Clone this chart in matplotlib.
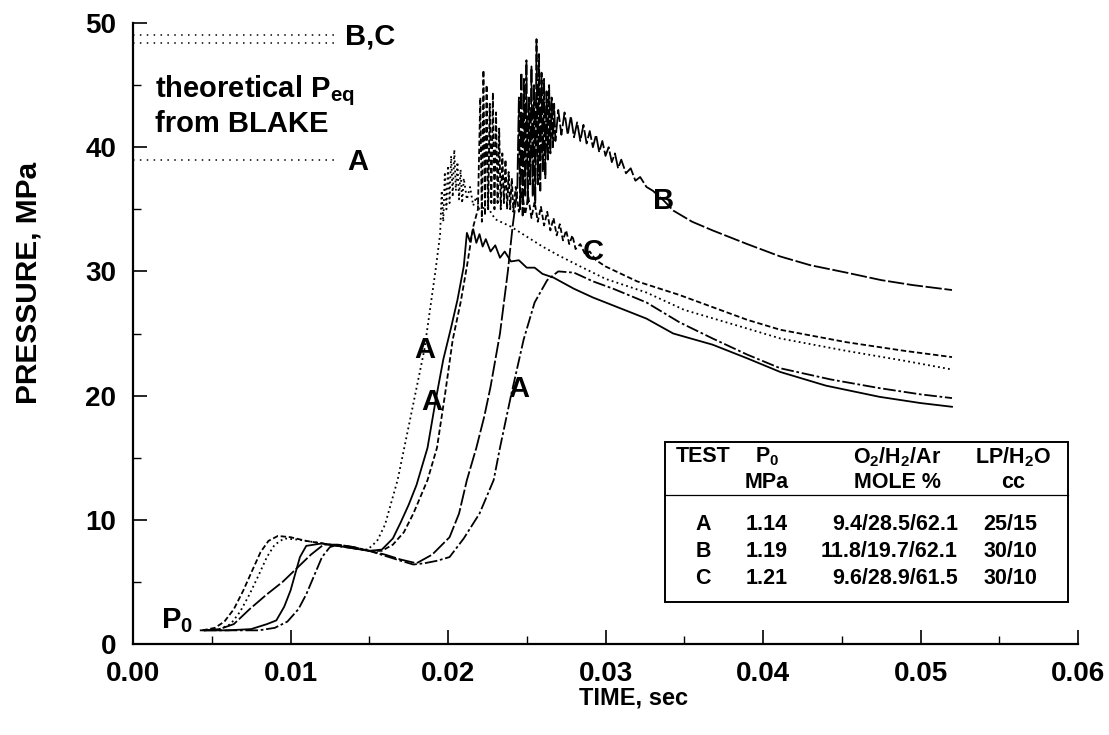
import matplotlib
matplotlib.use("Agg")
import matplotlib.pyplot as plt
from matplotlib.patches import Rectangle
from matplotlib.lines import Line2D

plt.rcParams['font.family'] = ['Liberation Sans', 'DejaVu Sans']
plt.rcParams['font.weight'] = 'bold'
plt.rcParams['axes.labelweight'] = 'bold'
plt.rcParams['mathtext.fontset'] = 'custom'
plt.rcParams['mathtext.rm'] = 'Liberation Sans:bold'
plt.rcParams['mathtext.it'] = 'Liberation Sans:bold'
plt.rcParams['mathtext.bf'] = 'Liberation Sans:bold'

# ---------------------------------------------------------------------------
# data (time in s, pressure in MPa)
# ---------------------------------------------------------------------------
dotted_t = [0.0045, 0.0055, 0.0062, 0.0068, 0.0074, 0.0080, 0.0085, 0.0090, 0.0096, 0.0105,
            0.0120, 0.0135, 0.0149, 0.0155, 0.0160, 0.0168, 0.0175, 0.0185, 0.0192, 0.0195,
            0.0196, 0.0197, 0.0198, 0.0199, 0.0200, 0.0201, 0.0202, 0.0203, 0.0204, 0.0205,
            0.0206, 0.0207, 0.0208, 0.0209, 0.0210, 0.0212, 0.0214, 0.0216, 0.0218, 0.0220,
            0.0225, 0.0230, 0.0240, 0.0250, 0.0260, 0.0270, 0.0284, 0.0300, 0.0326, 0.0350,
            0.0390, 0.0411, 0.0453, 0.0490, 0.0520]
dotted_p = [1.1, 1.2, 1.6, 2.6, 4.0, 5.6, 7.0, 8.0, 8.5, 8.4,
            8.1, 7.8, 7.6, 8.3, 9.6, 13.2, 17.5, 23.7, 30.0, 33.0,
            36.5, 34.0, 38.0, 35.0, 38.5, 35.5, 39.3, 36.0, 39.8, 36.5,
            38.8, 35.8, 38.2, 35.5, 37.5, 35.8, 36.8, 35.3, 36.0, 35.0,
            35.2, 34.2, 33.6, 32.8, 32.0, 31.3, 30.4, 29.4, 28.3, 26.9,
            25.4, 24.6, 23.6, 22.8, 22.1]

solid_t = [0.0043, 0.0060, 0.0075, 0.0085, 0.0091, 0.0096, 0.0100, 0.0106, 0.0110, 0.0120,
           0.0130, 0.0140, 0.0150, 0.0158, 0.0165, 0.0170, 0.0175, 0.0180, 0.0187, 0.0192,
           0.0197, 0.0202, 0.0206, 0.0210, 0.0212, 0.0214, 0.0216, 0.0218, 0.0220, 0.0222,
           0.0224, 0.0227, 0.0230, 0.0233, 0.0236, 0.0240, 0.0245, 0.0250, 0.0255, 0.0260,
           0.0267, 0.0280, 0.0292, 0.0310, 0.0326, 0.0343, 0.0368, 0.0390, 0.0411, 0.0440,
           0.0474, 0.0500, 0.0520]
solid_p = [1.1, 1.1, 1.2, 1.6, 1.9, 3.0, 4.3, 7.0, 7.9, 8.1,
           7.9, 7.7, 7.5, 7.6, 8.5, 9.8, 11.2, 12.8, 15.8, 19.5,
           22.9, 25.5, 27.7, 30.4, 33.1, 32.4, 33.4, 32.3, 33.0, 32.0,
           32.6, 31.6, 32.1, 31.1, 31.6, 30.8, 30.9, 30.3, 30.3, 29.8,
           29.5, 28.6, 27.9, 27.0, 26.2, 25.0, 24.1, 23.0, 21.9, 20.8,
           19.9, 19.4, 19.1]

dashed_t = [0.0044, 0.0052, 0.0058, 0.0064, 0.0070, 0.0076, 0.0081, 0.0086, 0.0092, 0.0100,
            0.0110, 0.0120, 0.0130, 0.0140, 0.0150, 0.0158, 0.0165, 0.0172, 0.0178, 0.0183,
            0.0187, 0.0193, 0.0198, 0.0203, 0.0208, 0.0212, 0.0216, 0.0219,
            0.02205, 0.02215, 0.02225, 0.02235, 0.02245, 0.02255, 0.02265, 0.02275, 0.02285, 0.02295,
            0.02305, 0.02315, 0.02325, 0.02335, 0.02345, 0.02355, 0.02365, 0.02375, 0.02385, 0.02395,
            0.02405, 0.02415, 0.0243, 0.0245, 0.0247, 0.0249, 0.0251, 0.0253, 0.0255, 0.0257,
            0.0259, 0.0261, 0.0263, 0.0265, 0.0267, 0.0269, 0.0271, 0.0273, 0.0275, 0.0277,
            0.0279, 0.0281, 0.0284, 0.0287, 0.0290, 0.0294, 0.0300, 0.0320, 0.0347, 0.0390,
            0.0411, 0.0453, 0.0490, 0.0520]
dashed_p = [1.1, 1.3, 1.8, 2.8, 4.3, 6.0, 7.4, 8.3, 8.7, 8.6,
            8.3, 8.1, 7.9, 7.7, 7.5, 7.5, 8.0, 9.0, 10.5, 12.0,
            13.2, 15.8, 20.0, 24.5, 27.5, 30.4, 33.6, 35.0,
            44.0, 34.0, 46.2, 34.5, 45.0, 35.0, 43.5, 35.5, 44.4, 35.0,
            42.8, 35.5, 41.5, 35.0, 39.5, 35.5, 39.0, 35.0, 38.0, 35.0,
            37.5, 34.8, 36.8, 34.8, 36.5, 34.6, 36.0, 34.3, 35.6, 34.0,
            35.2, 33.7, 34.8, 33.3, 34.3, 32.9, 33.8, 32.5, 33.3, 32.2,
            32.9, 31.8, 32.2, 31.4, 31.6, 30.9, 30.4, 29.2, 28.1, 26.1,
            25.3, 24.3, 23.6, 23.1]

longdash_t = [0.0045, 0.0055, 0.0064, 0.0074, 0.0085, 0.0095, 0.0104, 0.0113, 0.0121, 0.0130,
              0.0140, 0.0150, 0.0160, 0.0170, 0.0180, 0.0190, 0.0201, 0.0207, 0.0212,
              0.0218, 0.0223, 0.0227, 0.0233, 0.0238, 0.0241, 0.0244,
              0.02450, 0.02458, 0.02466, 0.02474, 0.02482, 0.02490, 0.02498, 0.02506, 0.02514, 0.02522,
              0.02530, 0.02538, 0.02546, 0.02554, 0.02562, 0.02570, 0.02578, 0.02586, 0.02594, 0.02602,
              0.02610, 0.02618, 0.02626, 0.02634, 0.02642, 0.02650, 0.02658, 0.02666, 0.02674, 0.02682,
              0.0270, 0.0272, 0.0274, 0.0276, 0.0278, 0.0280, 0.0282, 0.0284, 0.0286, 0.0288,
              0.0290, 0.0292, 0.0294, 0.0296, 0.0298, 0.0300, 0.0302, 0.0304, 0.0306, 0.0308,
              0.0310, 0.0313, 0.0316, 0.0319, 0.0322, 0.0326, 0.0330, 0.0337, 0.0343, 0.0355,
              0.0368, 0.0390, 0.0411, 0.0430, 0.0453, 0.0475, 0.0495, 0.0520]
longdash_p = [1.1, 1.2, 1.6, 2.8, 4.0, 5.0, 6.1, 7.2, 8.0, 8.0,
              7.8, 7.5, 7.2, 6.8, 6.5, 7.2, 8.6, 10.5, 13.2,
              15.8, 18.3, 20.7, 25.0, 30.0, 33.6, 36.5,
              44.0, 35.0, 46.0, 34.5, 45.5, 36.0, 47.0, 35.5, 44.0, 37.0,
              46.5, 36.0, 45.0, 35.5, 48.7, 37.0, 47.5, 36.5, 46.0, 38.0,
              45.5, 37.5, 44.5, 39.0, 45.0, 39.5, 44.0, 40.0, 43.5, 40.5,
              43.0, 41.0, 42.8, 41.0, 42.5, 40.8, 42.0, 40.5, 41.8, 40.3,
              41.3, 40.0, 41.0, 39.6, 40.5, 39.3, 40.0, 38.8, 39.5, 38.3,
              39.0, 37.9, 38.3, 37.3, 37.6, 36.8, 36.5, 35.7, 34.9, 34.0,
              33.3, 32.2, 31.2, 30.5, 29.9, 29.3, 28.9, 28.5]

dashdot_t = [0.0045, 0.0080, 0.0090, 0.0098, 0.0105, 0.0110, 0.0115, 0.0120, 0.0125, 0.0130,
             0.0140, 0.0150, 0.0160, 0.0170, 0.0178, 0.0185, 0.0193, 0.0201, 0.0210, 0.0220,
             0.0229, 0.0233, 0.0240, 0.0248, 0.0255, 0.0263, 0.0270,
             0.0280, 0.0292, 0.0305, 0.0326, 0.0347, 0.0368, 0.0390, 0.0411, 0.0443, 0.0474,
             0.0500, 0.0520]
dashdot_p = [1.1, 1.1, 1.3, 1.8, 2.8, 4.0, 5.5, 7.0, 7.8, 8.0,
             7.8, 7.5, 7.1, 6.7, 6.4, 6.5, 6.7, 7.0, 8.5, 10.5,
             13.2, 15.8, 20.0, 24.5, 27.5, 29.3, 30.0,
             29.9, 29.2, 28.6, 27.5, 25.9, 24.6, 23.3, 22.2, 21.3, 20.6,
             20.1, 19.8]

# theoretical equilibrium pressures from BLAKE
peq_bc = [49.0, 48.4]
peq_a = 39.0
peq_t_end = 0.0128

# table
tests = ['A', 'B', 'C']
p0_mpa = ['1.14', '1.19', '1.21']
mole_pct = ['9.4/28.5/62.1', '11.8/19.7/62.1', '9.6/28.9/61.5']
lp_h2o = ['25/15', '30/10', '30/10']

# curve labels (text, t, p)
curve_labels = [('A', 0.0185, 23.7), ('A', 0.0190, 19.5), ('A', 0.0245, 20.5),
                ('B', 0.0337, 35.7), ('C', 0.0292, 31.6)]

# ---------------------------------------------------------------------------
W, H = 1109, 735
fig = plt.figure(figsize=(W / 100, H / 100), dpi=100)
ax = fig.add_axes([133 / W, 1 - 644 / H, (1078 - 133) / W, (644 - 23) / H])


def fx(px):
    return px / W


def fy(py):
    return 1 - py / H


lw = 1.3
ax.plot(dotted_t, dotted_p, color='black', lw=lw, ls=(0, (1, 1.8)))
ax.plot(solid_t, solid_p, color='black', lw=lw, ls='-')
ax.plot(dashed_t, dashed_p, color='black', lw=lw, ls=(0, (3, 1.5)))
ax.plot(longdash_t, longdash_p, color='black', lw=lw, ls=(0, (9, 1.5)))
ax.plot(dashdot_t, dashdot_p, color='black', lw=lw, ls=(0, (7, 1.5, 1.5, 1.5)))

for p in peq_bc:
    ax.plot([0, peq_t_end], [p, p], color='black', lw=1.1, ls=(0, (1, 3.5)))
ax.plot([0, peq_t_end], [peq_a, peq_a], color='black', lw=1.1, ls=(0, (1, 3.5)))

big = 21
ax.text(0.01346, 48.9, 'B,C', fontsize=big, ha='left', va='center')
ax.text(0.01359, 38.8, 'A', fontsize=big, ha='left', va='center')
ax.text(0.0014, 44.0, 'theoretical P$_{eq}$', fontsize=big, ha='left', va='baseline')
ax.text(0.0014, 41.2, 'from BLAKE', fontsize=big, ha='left', va='baseline')
ax.text(0.0018, 1.9, 'P$_0$', fontsize=big, ha='left', va='center')

for lab, t, p in curve_labels:
    ax.text(t, p, lab, fontsize=big, ha='center', va='center')

ax.set_xlim(0, 0.06)
ax.set_ylim(0, 50)
ax.set_xticks([0, 0.01, 0.02, 0.03, 0.04, 0.05, 0.06])
ax.set_xticklabels(['0.00', '0.01', '0.02', '0.03', '0.04', '0.05', '0.06'])
ax.set_xticks([0.005, 0.015, 0.025, 0.035, 0.045, 0.055], minor=True)
ax.set_yticks([0, 10, 20, 30, 40, 50])
ax.set_yticks([5, 15, 25, 35, 45], minor=True)
ax.tick_params(which='major', direction='in', length=10, width=1.2, labelsize=20, pad=12)
ax.tick_params(which='minor', direction='in', length=6, width=1.0)
for s in ['top', 'right']:
    ax.spines[s].set_visible(False)
for s in ['left', 'bottom']:
    ax.spines[s].set_linewidth(1.6)

ax.set_xlabel('TIME, sec', fontsize=17)
ax.set_ylabel('PRESSURE, MPa', fontsize=21.5)
ax.xaxis.set_label_coords(0.530, -0.087)
ax.xaxis.label.set_va('center')
ax.yaxis.set_label_coords(-0.111, 0.581)
ax.yaxis.label.set_va('center')

# table box
fig.add_artist(Rectangle((fx(665), fy(602)), fx(1068) - fx(665), fy(442) - fy(602),
                         fill=False, lw=1.4, ec='black'))
fig.add_artist(Line2D([fx(665), fx(1068)], [fy(495), fy(495)], lw=0.9, color='black'))
ts = 15.5
fig.text(fx(703), fy(457), 'TEST', fontsize=ts, ha='center', va='center')
fig.text(fx(767), fy(457), 'P$_0$', fontsize=ts, ha='center', va='center')
fig.text(fx(767), fy(482), 'MPa', fontsize=ts, ha='center', va='center')
fig.text(fx(897), fy(457), 'O$_2$/H$_2$/Ar', fontsize=ts, ha='center', va='center')
fig.text(fx(897), fy(482), 'MOLE %', fontsize=ts, ha='center', va='center')
fig.text(fx(1013), fy(457), 'LP/H$_2$O', fontsize=ts, ha='center', va='center')
fig.text(fx(1013), fy(482), 'cc', fontsize=ts, ha='center', va='center')
for i, (tst, p0, mp, lp) in enumerate(zip(tests, p0_mpa, mole_pct, lp_h2o)):
    y = fy(525 + i * 26.5)
    fig.text(fx(703), y, tst, fontsize=ts, ha='center', va='center')
    fig.text(fx(767), y, p0, fontsize=ts, ha='center', va='center')
    fig.text(fx(958), y, mp, fontsize=ts, ha='right', va='center')
    fig.text(fx(1010), y, lp, fontsize=ts, ha='center', va='center')

fig.savefig('out.png', dpi=100)
